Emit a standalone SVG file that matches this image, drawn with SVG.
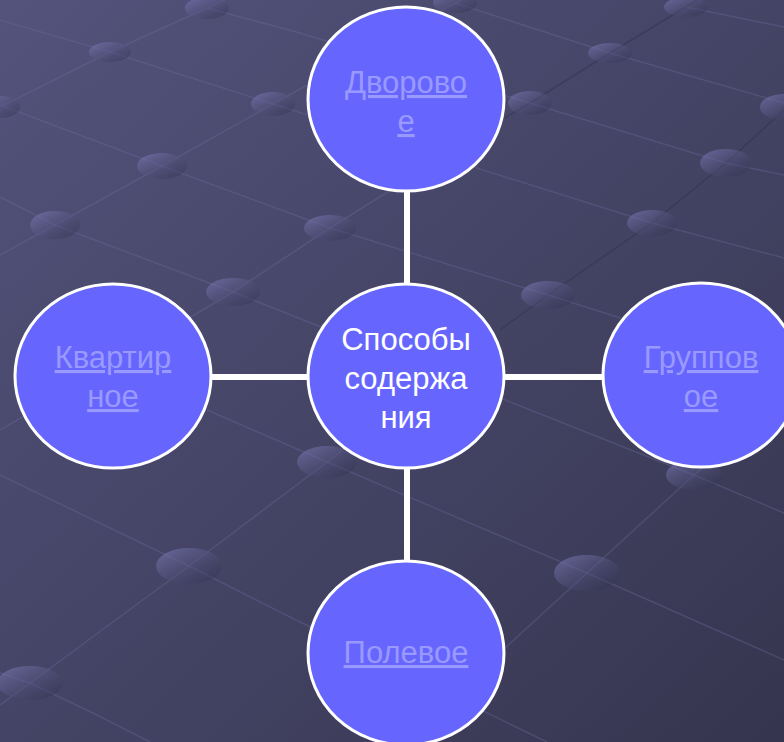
<svg xmlns="http://www.w3.org/2000/svg" width="784" height="742" viewBox="0 0 784 742">
<defs>
<linearGradient id="bg" x1="0" y1="0" x2="1" y2="1">
<stop offset="0" stop-color="#53537c"/>
<stop offset="1" stop-color="#36354f"/>
</linearGradient>
<linearGradient id="dot" x1="0" y1="0" x2="1" y2="1">
<stop offset="0" stop-color="#8484c4" stop-opacity="0.6"/>
<stop offset="1" stop-color="#25253d" stop-opacity="0.35"/>
</linearGradient>
<style>
.grid{fill:none;stroke:#6a6a9a;stroke-opacity:0.38;stroke-width:1.5}
.gridd{fill:none;stroke:#2e2e48;stroke-opacity:0.4;stroke-width:1.5}
.dot{fill:url(#dot)}
.node{fill:#6666ff;stroke:#ffffff;stroke-width:3}
.conn{stroke:#ffffff;stroke-width:6;fill:none}
.lbl{font-family:"Liberation Sans",Arial,sans-serif;font-size:31px;text-anchor:middle}
.link{fill:#9999ff;text-decoration:underline}
.main{fill:#ffffff}
</style>
</defs>
<g id="background">
<rect x="0" y="0" width="784" height="742" fill="url(#bg)"/>
<polyline class="grid" points="207,8 300,33 530,103 726,163 784,175"/>
<polyline class="grid" points="455,3 610,53 784,103"/>
<polyline class="grid" points="686,7 784,27"/>
<polyline class="grid" points="0,20 110,52 273,104 652,223 784,258"/>
<polyline class="grid" points="0,105 162,166 330,228 548,295 784,370"/>
<polyline class="grid" points="0,197 55,225 233,292 694,475 784,513"/>
<polyline class="grid" points="207,410 327,462 587,573 784,660"/>
<polyline class="grid" points="0,475 189,566 300,622 547,742"/>
<polyline class="grid" points="0,673 30,683 93,713 150,742"/>
<polyline class="grid" points="0,107 110,52 207,8 225,0"/>
<polyline class="grid" points="0,255 55,225 162,166 273,104 461,0"/>
<polyline class="grid" points="0,430 233,292 330,228 410,178"/>
<polyline class="gridd" points="505,118 530,103 610,53 686,7 697,0"/>
<polyline class="grid" points="0,705 30,683 189,566 327,462 410,400"/>
<polyline class="gridd" points="500,330 548,295 652,223 726,163 784,110"/>
<polyline class="grid" points="420,730 505,648 587,573 694,475 784,395"/>
<ellipse class="dot" cx="207" cy="8" rx="22" ry="11"/>
<ellipse class="dot" cx="455" cy="3" rx="22" ry="10"/>
<ellipse class="dot" cx="686" cy="7" rx="22" ry="10"/>
<ellipse class="dot" cx="110" cy="52" rx="21" ry="10"/>
<ellipse class="dot" cx="610" cy="53" rx="22" ry="10"/>
<ellipse class="dot" cx="0" cy="107" rx="20" ry="11"/>
<ellipse class="dot" cx="273" cy="104" rx="22" ry="12"/>
<ellipse class="dot" cx="530" cy="103" rx="22" ry="12"/>
<ellipse class="dot" cx="784" cy="107" rx="24" ry="13"/>
<ellipse class="dot" cx="162" cy="166" rx="25" ry="13"/>
<ellipse class="dot" cx="726" cy="163" rx="26" ry="14"/>
<ellipse class="dot" cx="55" cy="225" rx="25" ry="14"/>
<ellipse class="dot" cx="330" cy="228" rx="26" ry="13"/>
<ellipse class="dot" cx="652" cy="223" rx="25" ry="13"/>
<ellipse class="dot" cx="233" cy="292" rx="27" ry="14"/>
<ellipse class="dot" cx="548" cy="295" rx="27" ry="14"/>
<ellipse class="dot" cx="327" cy="462" rx="30" ry="16"/>
<ellipse class="dot" cx="694" cy="475" rx="28" ry="15"/>
<ellipse class="dot" cx="189" cy="566" rx="33" ry="18"/>
<ellipse class="dot" cx="587" cy="573" rx="33" ry="18"/>
<ellipse class="dot" cx="30" cy="683" rx="33" ry="17"/>
</g>
<g id="connectors">
<line class="conn" x1="407" y1="191" x2="407" y2="285"/>
<line class="conn" x1="407" y1="467" x2="407" y2="562"/>
<line class="conn" x1="210" y1="377" x2="309" y2="377"/>
<line class="conn" x1="503" y1="377" x2="603" y2="377"/>
</g>
<g id="node-center">
<ellipse class="node" cx="406" cy="376" rx="98" ry="92"/>
<text class="lbl main" x="406" y="350">Способы</text>
<text class="lbl main" x="406" y="389">содержа</text>
<text class="lbl main" x="406" y="428">ния</text>
</g>
<g id="node-dvorovoe">
<ellipse class="node" cx="406" cy="99" rx="98" ry="92"/>
<text class="lbl link" x="406" y="93">Дворово</text>
<text class="lbl link" x="406" y="132">е</text>
</g>
<g id="node-kvartirnoe">
<ellipse class="node" cx="113" cy="376" rx="98" ry="92"/>
<text class="lbl link" x="113" y="368">Квартир</text>
<text class="lbl link" x="113" y="407">ное</text>
</g>
<g id="node-gruppovoe">
<ellipse class="node" cx="701" cy="375" rx="98" ry="92"/>
<text class="lbl link" x="701" y="368">Группов</text>
<text class="lbl link" x="701" y="407">ое</text>
</g>
<g id="node-polevoe">
<ellipse class="node" cx="406" cy="653" rx="98" ry="92"/>
<text class="lbl link" x="406" y="663">Полевое</text>
</g>
</svg>
